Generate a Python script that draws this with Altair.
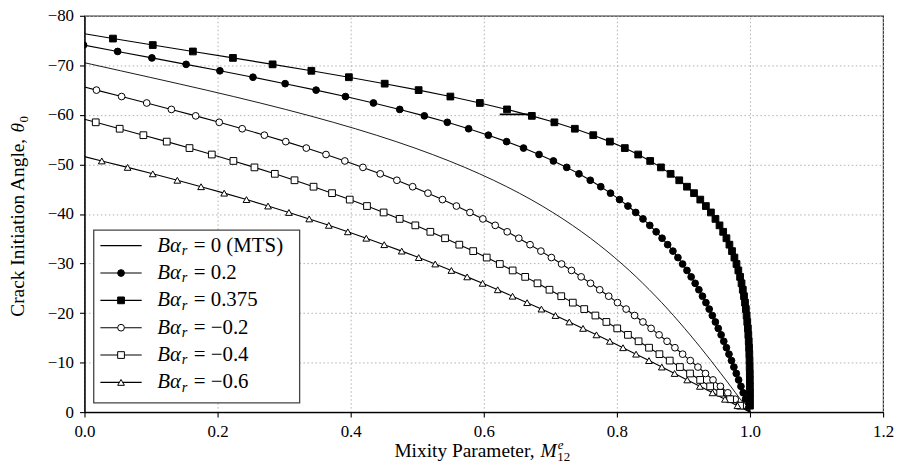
import altair as alt
import pandas as pd

# crack initiation angle (deg) at which every marker sits, k = 1 .. 58
THETA = [-1.3, -2.6, -3.9, -5.2, -6.5, -7.8, -9.1, -10.4, -11.7, -13.0,
         -14.3, -15.6, -16.9, -18.2, -19.5, -20.8, -22.1, -23.4, -24.7, -26.0,
         -27.3, -28.6, -29.9, -31.2, -32.5, -33.8, -35.1, -36.4, -37.7, -39.0,
         -40.3, -41.6, -42.9, -44.2, -45.5, -46.8, -48.1, -49.4, -50.7, -52.0,
         -53.3, -54.6, -55.9, -57.2, -58.5, -59.8, -61.1, -62.4, -63.7, -65.0,
         -66.3, -67.6, -68.9, -70.2, -71.5, -72.8, -74.1, -75.4]

M_MTS = [0.9928, 0.9855, 0.9783, 0.9710, 0.9637, 0.9562, 0.9488, 0.9413, 0.9336, 0.9259,
         0.9180, 0.9100, 0.9018, 0.8935, 0.8850, 0.8763, 0.8674, 0.8582, 0.8487, 0.8390,
         0.8290, 0.8186, 0.8078, 0.7966, 0.7850, 0.7729, 0.7603, 0.7471, 0.7333, 0.7189,
         0.7037, 0.6878, 0.6710, 0.6533, 0.6345, 0.6147, 0.5937, 0.5715, 0.5479, 0.5229,
         0.4965, 0.4684, 0.4386, 0.4071, 0.3738, 0.3389, 0.3022, 0.2639, 0.2240, 0.1830,
         0.1408, 0.0978, 0.0544, 0.0110]
M_P02 = [0.9966, 0.9933, 0.9898, 0.9864, 0.9829, 0.9794, 0.9758, 0.9722, 0.9684, 0.9646,
         0.9606, 0.9566, 0.9523, 0.9480, 0.9434, 0.9387, 0.9338, 0.9286, 0.9232, 0.9176,
         0.9116, 0.9053, 0.8987, 0.8917, 0.8842, 0.8763, 0.8679, 0.8590, 0.8494, 0.8392,
         0.8283, 0.8166, 0.8040, 0.7904, 0.7758, 0.7600, 0.7430, 0.7246, 0.7046, 0.6830,
         0.6597, 0.6343, 0.6069, 0.5772, 0.5452, 0.5107, 0.4737, 0.4342, 0.3922, 0.3480,
         0.3015, 0.2532, 0.2035, 0.1527, 0.1013, 0.0498, -0.0014]
M_P0375 = [1.0000, 1.0000, 1.0000, 0.9999, 0.9998, 0.9997, 0.9995, 0.9993, 0.9990, 0.9986,
           0.9981, 0.9975, 0.9968, 0.9959, 0.9949, 0.9938, 0.9925, 0.9910, 0.9892, 0.9873,
           0.9851, 0.9825, 0.9797, 0.9766, 0.9730, 0.9691, 0.9646, 0.9597, 0.9542, 0.9481,
           0.9413, 0.9337, 0.9253, 0.9159, 0.9053, 0.8937, 0.8807, 0.8662, 0.8500, 0.8320,
           0.8119, 0.7895, 0.7645, 0.7368, 0.7061, 0.6722, 0.6349, 0.5941, 0.5498, 0.5021,
           0.4511, 0.3973, 0.3409, 0.2827, 0.2231, 0.1629, 0.1026, 0.0428]
M_M02 = [0.9889, 0.9778, 0.9667, 0.9556, 0.9444, 0.9331, 0.9218, 0.9103, 0.8988, 0.8872,
         0.8754, 0.8634, 0.8514, 0.8391, 0.8266, 0.8139, 0.8009, 0.7877, 0.7742, 0.7604,
         0.7463, 0.7318, 0.7169, 0.7016, 0.6858, 0.6695, 0.6526, 0.6352, 0.6172, 0.5986,
         0.5792, 0.5589, 0.5379, 0.5161, 0.4931, 0.4694, 0.4444, 0.4184, 0.3912, 0.3629,
         0.3333, 0.3024, 0.2703, 0.2370, 0.2025, 0.1671, 0.1306, 0.0935, 0.0558, 0.0180]
M_M04 = [0.9851, 0.9701, 0.9552, 0.9401, 0.9251, 0.9099, 0.8947, 0.8794, 0.8639, 0.8483,
         0.8326, 0.8166, 0.8005, 0.7842, 0.7677, 0.7509, 0.7338, 0.7164, 0.6987, 0.6807,
         0.6622, 0.6434, 0.6241, 0.6044, 0.5841, 0.5632, 0.5418, 0.5197, 0.4971, 0.4736,
         0.4495, 0.4245, 0.3986, 0.3720, 0.3442, 0.3156, 0.2860, 0.2554, 0.2238, 0.1913,
         0.1578, 0.1236, 0.0885, 0.0529, 0.0169]
M_M06 = [0.9812, 0.9624, 0.9436, 0.9247, 0.9057, 0.8867, 0.8675, 0.8482, 0.8288, 0.8092,
         0.7894, 0.7693, 0.7491, 0.7285, 0.7077, 0.6866, 0.6651, 0.6432, 0.6209, 0.5982,
         0.5750, 0.5513, 0.5270, 0.5022, 0.4767, 0.4504, 0.4234, 0.3957, 0.3671, 0.3377,
         0.3072, 0.2758, 0.2434, 0.2099, 0.1752, 0.1395, 0.1026, 0.0648, 0.0260]

SERIES = ["MTS", "0.2", "0.375", "-0.2", "-0.4", "-0.6"]
SERIES_M = [M_MTS, M_P02, M_P0375, M_M02, M_M04, M_M06]
THETA_AT_M0 = [-70.53, -74.07, -76.38, -65.62, -59.11, -51.57]   # curve value at M = 0
END_POINT = (1.0, 0.0)
LEGEND_LABELS = ["= 0 (MTS)", "= 0.2", "= 0.375", "= \u22120.2", "= \u22120.4", "= \u22120.6"]
ARTIFACT_X = [0.624, 0.672]
ARTIFACT_Y = [-60.1, -60.1]

MARK_SERIES = ["0.2", "0.375", "-0.2", "-0.4", "-0.6"]
SHAPES = ["circle", "square", "circle", "square", "triangle-up"]
FILLS = ["black", "black", "white", "white", "white"]
SIZES = [46, 46, 46, 46, 54]

# ---- tables
line_rows, pt_rows = [], []
for s, ms, t0 in zip(SERIES, SERIES_M, THETA_AT_M0):
    n = len(ms)
    seq = [(0.0, t0)] + [(ms[i], THETA[i]) for i in range(n - 1, -1, -1)] + [END_POINT]
    for o, (x, y) in enumerate(seq):
        line_rows.append({"series": s, "x": x, "y": y, "ord": o})
    if s != "MTS":
        for i in range(n - 1, -1, -1):
            pt_rows.append({"series": s, "x": ms[i], "y": THETA[i]})
line_df = pd.DataFrame(line_rows)
pt_df = pd.DataFrame(pt_rows)
art_df = pd.DataFrame({"x": ARTIFACT_X, "y": ARTIFACT_Y})

# legend rows, positioned on the angle scale
leg_df = pd.DataFrame({"series": SERIES, "lab": LEGEND_LABELS,
                       "y": [-33.6 + 5.52 * i for i in range(len(SERIES))]})
leg_pt_df = leg_df[leg_df.series != "MTS"]

FONT = "Liberation Serif"
TFS = 19.5   # axis-title font size
W, H = 804, 399

xs = alt.Scale(domain=[0, 1.2], nice=False, zero=False)
ys = alt.Scale(domain=[-80, 0], reverse=True, nice=False, zero=False)
shape_enc = alt.Shape("series:N", scale=alt.Scale(domain=MARK_SERIES, range=SHAPES), legend=None)
fill_enc = alt.Fill("series:N", scale=alt.Scale(domain=MARK_SERIES, range=FILLS), legend=None)
size_enc = alt.Size("series:N", scale=alt.Scale(domain=MARK_SERIES, range=SIZES), legend=None)

base_x = alt.X("x:Q", scale=xs, title=None,
               axis=alt.Axis(values=[0, 0.2, 0.4, 0.6, 0.8, 1.0, 1.2], format=".1f",
                             labelPadding=7, labelFlush=False))
base_y = alt.Y("y:Q", scale=ys, title=None,
               axis=alt.Axis(values=[-80, -70, -60, -50, -40, -30, -20, -10, 0], format="d",
                             labelPadding=6, labelFlush=False))

mts_line = alt.Chart(line_df[line_df.series == "MTS"]).mark_line(
    color="black", strokeWidth=0.9, clip=True).encode(
    x=base_x, y=base_y, detail="series:N", order="ord:Q")
other_lines = alt.Chart(line_df[line_df.series != "MTS"]).mark_line(
    color="black", strokeWidth=1.1, clip=True).encode(
    x=alt.X("x:Q", title=None), y=alt.Y("y:Q", title=None), detail="series:N", order="ord:Q")
points = alt.Chart(pt_df).mark_point(
    filled=True, stroke="black", strokeWidth=1, opacity=1, clip=True).encode(
    x=alt.X("x:Q", title=None), y=alt.Y("y:Q", title=None),
    shape=shape_enc, fill=fill_enc, size=size_enc)
artifact = alt.Chart(art_df).mark_line(color="black", strokeWidth=1.6).encode(
    x=alt.X("x:Q", title=None), y=alt.Y("y:Q", title=None))

one = pd.DataFrame({"a": [0]})
leg_box = alt.Chart(one).mark_rect(fill="white", stroke="#444", strokeWidth=1.3).encode(
    x=alt.value(9.3), x2=alt.value(216.6), y=alt.value(215.7), y2=alt.value(389.7))
leg_rule = alt.Chart(leg_df).mark_rule(color="black", strokeWidth=1.1).encode(
    x=alt.value(16), x2=alt.value(57.6), y=alt.Y("y:Q", title=None))
leg_pts = alt.Chart(leg_pt_df).mark_point(
    filled=True, stroke="black", strokeWidth=1, opacity=1).encode(
    x=alt.value(36.8), y=alt.Y("y:Q", title=None), shape=shape_enc, fill=fill_enc, size=size_enc)
leg_t1 = alt.Chart(leg_df).mark_text(
    font=FONT, fontSize=21, fontStyle="italic", align="left", baseline="middle", color="black").encode(
    x=alt.value(73.3), y=alt.Y("y:Q", title=None), text=alt.value("B\u03b1"))
leg_t2 = alt.Chart(leg_df).mark_text(
    font=FONT, fontSize=14.5, fontStyle="italic", align="left", baseline="middle", color="black", dy=5.5).encode(
    x=alt.value(97.8), y=alt.Y("y:Q", title=None), text=alt.value("r"))
leg_t3 = alt.Chart(leg_df).mark_text(
    font=FONT, fontSize=21, align="left", baseline="middle", color="black").encode(
    x=alt.value(110.0), y=alt.Y("y:Q", title=None), text="lab:N")

# axis titles (with italic symbols and sub/superscripts)
def txt(s, x, y, size=TFS, style="normal", dy=0, angle=0):
    kw = dict(font=FONT, fontSize=size, fontStyle=style, align="left",
              baseline="middle", color="black", dy=dy)
    if angle:
        kw["angle"] = angle
    return alt.Chart(one).mark_text(**kw).encode(x=alt.value(x), y=alt.value(y), text=alt.value(s))

xt_y = 438.5
x_title = [txt("Mixity Parameter,", 312, xt_y), txt("M", 459, xt_y, style="italic"),
           txt("e", 476.5, xt_y, size=13, style="italic", dy=-6.5),
           txt("12", 476, xt_y, size=13, dy=5.5)]
yt_x = -66.5
y_title = [txt("Crack Initiation Angle,", yt_x, 303, angle=270),
           txt("\u03b8", yt_x, 117.5, style="italic", angle=270),
           txt("0", yt_x + 5.5, 107.5, size=13, angle=270)]

chart = alt.layer(
    mts_line, other_lines, points, artifact,
    leg_box, leg_rule, leg_pts, leg_t1, leg_t2, leg_t3,
    *x_title, *y_title
).properties(
    width=W, height=H,
    autosize=alt.AutoSizeParams(type="none"),
    padding={"left": 77, "top": 6.3, "right": 14, "bottom": 54},
).configure_view(
    stroke="#333", strokeWidth=1.2
).configure_axis(
    labelFont=FONT, labelFontSize=17, labelColor="black",
    tickColor="black", tickSize=5, tickWidth=1.1,
    domainColor="black", domainWidth=1.3,
    grid=True, gridColor="#b0b0b0", gridDash=[1.5, 2.5], gridWidth=1,
)

chart.save("out.html", embed_options={"renderer": "svg", "actions": False})
